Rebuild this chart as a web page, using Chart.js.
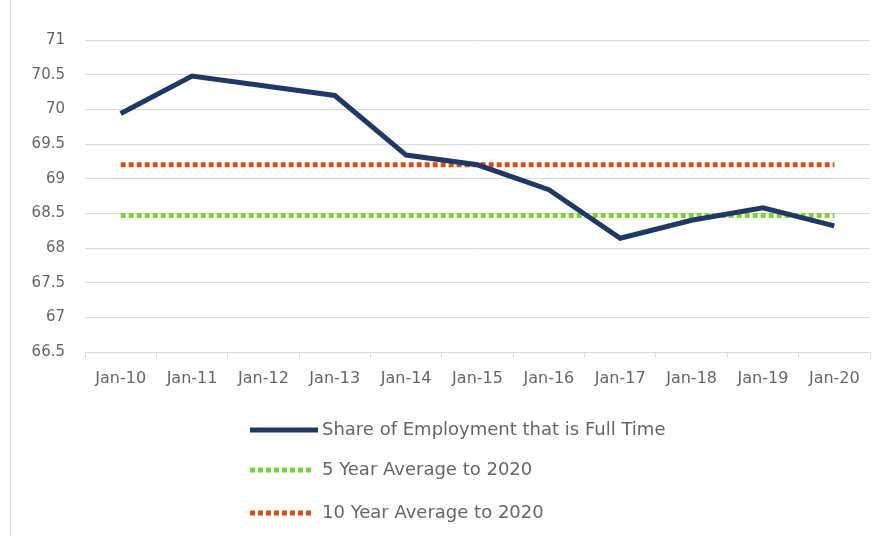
<!DOCTYPE html>
<html>
<head>
<meta charset="utf-8">
<script src="https://cdn.jsdelivr.net/npm/chart.js@4.4.1/dist/chart.umd.min.js"></script>
<style>
  html, body { margin: 0; padding: 0; background: #fff; }
  #wrap { position: relative; width: 888px; height: 536px; }
  #frame { position: absolute; left: 10px; top: 0; width: 1px; height: 536px; background: #d9d9d9; }
</style>
</head>
<body>
<div id="wrap">
  <div id="frame"></div>
  <canvas id="fullTimeChart" width="888" height="536"></canvas>
</div>
<script>
// categories and series
const years = ['Jan-10', 'Jan-11', 'Jan-12', 'Jan-13', 'Jan-14', 'Jan-15', 'Jan-16', 'Jan-17', 'Jan-18', 'Jan-19', 'Jan-20'];
const fullTimeShare = [69.94, 70.48, 70.34, 70.20, 69.34, 69.20, 68.84, 68.14, 68.40, 68.58, 68.32];
const fiveYearAvg = [68.47, 68.47, 68.47, 68.47, 68.47, 68.47, 68.47, 68.47, 68.47, 68.47, 68.47];
const tenYearAvg = [69.20, 69.20, 69.20, 69.20, 69.20, 69.20, 69.20, 69.20, 69.20, 69.20, 69.20];
const yTicks = [66.5, 67, 67.5, 68, 68.5, 69, 69.5, 70, 70.5, 71];

const textColor = '#666666';
const fontFamily = '"DejaVu Sans", Verdana, sans-serif';

// Draw the stacked legend below the axis (Chart.js legend only lays out in rows)
const stackedLegend = {
  id: 'stackedLegend',
  afterDraw(chart) {
    const ctx = chart.ctx;
    const rows = [430, 470, 513];
    ctx.save();
    chart.data.datasets.forEach((ds, i) => {
      const y = rows[i];
      ctx.strokeStyle = ds.borderColor;
      ctx.lineWidth = ds.borderWidth;
      ctx.setLineDash(ds.borderDash || []);
      ctx.beginPath();
      ctx.moveTo(250, y);
      ctx.lineTo(i === 0 ? 318 : 312, y);
      ctx.stroke();
      ctx.setLineDash([]);
      ctx.fillStyle = textColor;
      ctx.font = '18px ' + fontFamily;
      ctx.textBaseline = 'middle';
      ctx.fillText(ds.label, 322, y);
    });
    ctx.restore();
  }
};

let ctx = document.getElementById('fullTimeChart').getContext('2d');

new Chart(ctx, {
  type: 'line',
  data: {
    labels: years,
    datasets: [{
      label: 'Share of Employment that is Full Time',
      data: fullTimeShare,
      borderColor: '#203864',
      borderWidth: 5,
      pointRadius: 0,
      tension: 0
    }, {
      label: '5 Year Average to 2020',
      data: fiveYearAvg,
      borderColor: '#7dd13a',
      borderWidth: 5,
      borderDash: [5, 3],
      pointRadius: 0
    }, {
      label: '10 Year Average to 2020',
      data: tenYearAvg,
      borderColor: '#d2521a',
      borderWidth: 5,
      borderDash: [5, 3],
      pointRadius: 0
    }]
  },
  options: {
    responsive: false,
    animation: false,
    layout: { padding: { left: 10, right: 18, top: 40, bottom: 0 } },
    plugins: {
      legend: { display: false },
      tooltip: { enabled: false }
    },
    scales: {
      x: {
        offset: true,
        grid: {
          offset: true,
          drawOnChartArea: false,
          drawTicks: true,
          tickLength: 6,
          color: '#d9d9d9'
        },
        border: { color: '#d9d9d9' },
        ticks: {
          color: textColor,
          font: { family: fontFamily, size: 16 },
          padding: 11,
          maxRotation: 0
        },
        afterFit: s => { s.height = 184; }
      },
      y: {
        min: 66.5,
        max: 71,
        afterBuildTicks: s => { s.ticks = yTicks.map(v => ({ value: v })); },
        grid: { color: '#d9d9d9', drawTicks: false },
        border: { display: false },
        ticks: {
          color: textColor,
          font: { family: fontFamily, size: 15 },
          padding: 20,
          callback: v => String(v)
        },
        afterFit: s => { s.width = 75; }
      }
    }
  },
  plugins: [stackedLegend]
});
</script>
</body>
</html>
